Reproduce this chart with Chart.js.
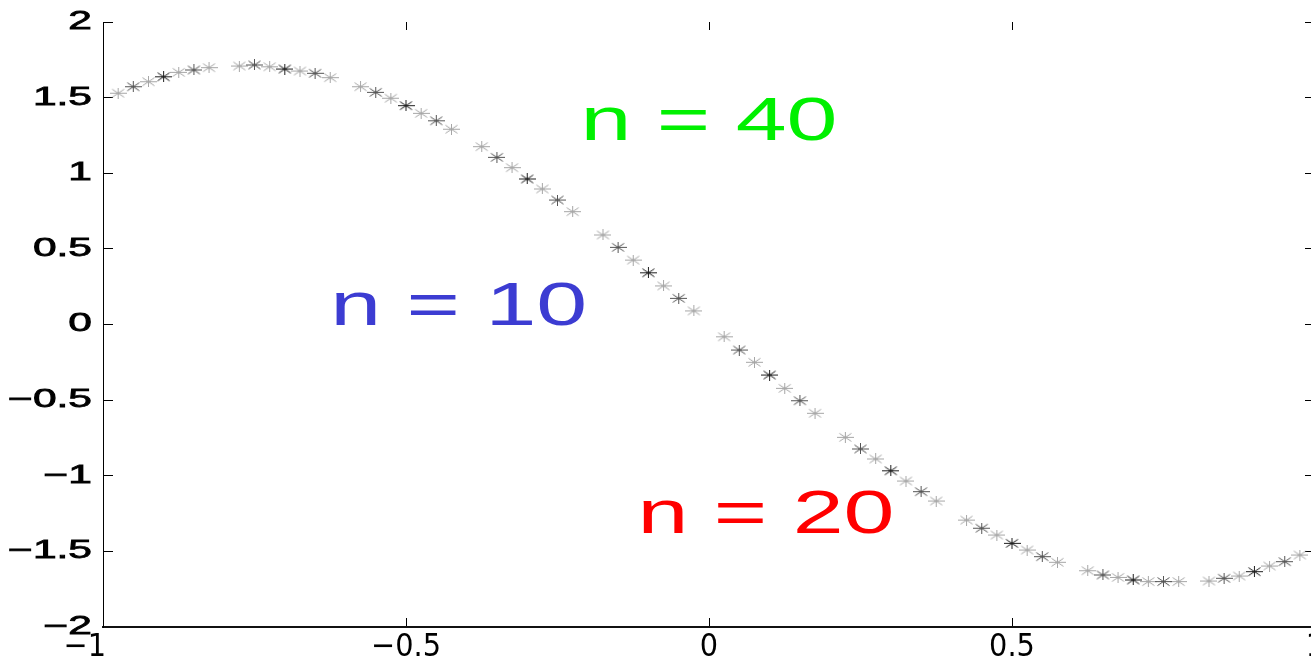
<!DOCTYPE html>
<html>
<head>
<meta charset="utf-8">
<style>
  html, body { margin: 0; padding: 0; background: #fff; overflow: hidden; }
  canvas { display: block; }
</style>
<script src="https://cdn.jsdelivr.net/npm/chart.js@4/dist/chart.umd.min.js"></script>
</head>
<body>
<canvas id="c" width="1320" height="660" style="width:1320px;height:660px"></canvas>
<script>
// Cell-midpoint samples for three grid sizes
const x10 = [-0.9, -0.7, -0.5, -0.3, -0.1, 0.1, 0.3, 0.5, 0.7, 0.9];
const y10 = [1.638, 1.689, 1.447, 0.962, 0.342, -0.334, -0.967, -1.447, -1.689, -1.634];

const x20 = [-0.95, -0.85, -0.75, -0.65, -0.55, -0.45, -0.35, -0.25, -0.15, -0.05,
              0.05,  0.15,  0.25,  0.35,  0.45,  0.55,  0.65,  0.75,  0.85,  0.95];
const y20 = [1.572, 1.683, 1.716, 1.661, 1.535, 1.347, 1.105, 0.823, 0.510, 0.173,
             -0.169, -0.504, -0.823, -1.105, -1.347, -1.535, -1.656, -1.700, -1.678, -1.568];

const x40 = [-0.975, -0.925, -0.875, -0.825, -0.775, -0.725, -0.675, -0.625, -0.575, -0.525,
             -0.475, -0.425, -0.375, -0.325, -0.275, -0.225, -0.175, -0.125, -0.075, -0.025,
              0.025,  0.075,  0.125,  0.175,  0.225,  0.275,  0.325,  0.375,  0.425,  0.475,
              0.525,  0.575,  0.625,  0.675,  0.725,  0.775,  0.825,  0.875,  0.925,  0.975];
const y40 = [1.529, 1.605, 1.667, 1.698, 1.709, 1.704, 1.676, 1.632, 1.572, 1.496,
             1.396, 1.291, 1.176, 1.037, 0.896, 0.746, 0.592, 0.426, 0.255, 0.090,
             -0.081, -0.250, -0.422, -0.587, -0.746, -0.889, -1.035, -1.167, -1.293, -1.392,
             -1.491, -1.572, -1.628, -1.672, -1.700, -1.700, -1.696, -1.663, -1.597, -1.524];

// Axis ranges and tick step
const xRange = [-1, 1];
const yRange = [-2, 2];
const tickStep = 0.5;

// Text notes
const noteText  = ['n = 40', 'n = 10', 'n = 20'];
const noteColor = ['#00f000', '#3c3cd2', '#ff0000'];
const noteX = [-0.212, -0.625, -0.118];
const noteY = [1.220, -0.003, -1.379];

const NOTE_FONT = 61;
const NOTE_STRETCH = 1.5;
const Y_LABEL_STRETCH = 1.7;

const pairs = (xs, ys) => xs.map((v, i) => ({ x: v, y: ys[i] }));
const fmt = v => (v < 0 ? '\u2212' : '') + Math.abs(v);
// The leftmost x label sits a little left of its tick
const fmtX = v => fmt(v) + (v === xRange[0] ? '    ' : '');

// Asterisk marker (plus + cross), wider than tall
function asterisk(color) {
  const w = 17, h = 11;
  const c = document.createElement('canvas');
  c.width = w; c.height = h;
  const g = c.getContext('2d');
  g.strokeStyle = color;
  g.lineWidth = 1;
  g.beginPath();
  g.moveTo(0, 5.5);   g.lineTo(17, 5.5);
  g.moveTo(8.5, 0);   g.lineTo(8.5, 11);
  g.moveTo(2.5, 1.5); g.lineTo(14.5, 9.5);
  g.moveTo(14.5, 1.5); g.lineTo(2.5, 9.5);
  g.stroke();
  return c;
}

// Widen the left axis labels about their right edge
const stretchYLabels = {
  id: 'stretchYLabels',
  beforeDraw(chart) {
    const s = chart.scales.y;
    if (s.__wide) return;
    s.__wide = true;
    const orig = s.drawLabels;
    s.drawLabels = function (area) {
      const ctx = this.ctx;
      const R = this.right - (this.options.grid.tickLength + this.options.ticks.padding);
      ctx.save();
      ctx.translate(R, 0);
      ctx.scale(Y_LABEL_STRETCH, 1);
      ctx.translate(-R, 0);
      orig.call(this, area);
      ctx.restore();
    };
  }
};

const notes = {
  id: 'notes',
  afterDatasetsDraw(chart) {
    const { ctx, scales: { x, y } } = chart;
    ctx.save();
    ctx.font = NOTE_FONT + 'px "Liberation Sans", Arial, sans-serif';
    ctx.textBaseline = 'alphabetic';
    ctx.textAlign = 'left';
    noteText.forEach((t, i) => {
      ctx.save();
      ctx.translate(x.getPixelForValue(noteX[i]), y.getPixelForValue(noteY[i]));
      ctx.scale(NOTE_STRETCH, 1);
      ctx.fillStyle = noteColor[i];
      ctx.fillText(t, 0, 0);
      ctx.restore();
    });
    ctx.restore();
  }
};

const tickOnly = (len) => ({
  display: true,
  drawOnChartArea: false,
  drawTicks: true,
  tickLength: len,
  color: '#000',
  tickColor: '#000',
  lineWidth: 1
});

// Fixed box sizes, no extra room reserved for label overhang
const fixSize = (w, h) => (s) => {
  if (w !== null) s.width = w;
  if (h !== null) s.height = h;
  s.paddingLeft = s.paddingRight = s.paddingTop = s.paddingBottom = 0;
};

new Chart(document.getElementById('c'), {
  type: 'scatter',
  data: {
    datasets: [
      { label: 'n = 10', data: pairs(x10, y10), pointStyle: asterisk('#1e1e1e') },
      { label: 'n = 20', data: pairs(x20, y20), pointStyle: asterisk('#555555') },
      { label: 'n = 40', data: pairs(x40, y40), pointStyle: asterisk('#a6a6a6') }
    ]
  },
  options: {
    responsive: false,
    devicePixelRatio: 1,
    animation: false,
    layout: { padding: 0, autoPadding: false },
    plugins: { legend: { display: false }, tooltip: { enabled: false } },
    elements: { point: { radius: 8, hoverRadius: 8 } },
    scales: {
      x: {
        type: 'linear', position: 'bottom', min: xRange[0], max: xRange[1],
        grid: tickOnly(-9),
        border: { display: true, color: '#111', width: 2 },
        ticks: {
          stepSize: tickStep, color: '#000', padding: 10, maxRotation: 0,
          font: { family: '"Liberation Sans Narrow", "DejaVu Sans Condensed", sans-serif', size: 32 },
          callback: fmtX
        },
        afterFit: fixSize(null, 33)
      },
      xTop: {
        type: 'linear', position: 'top', min: xRange[0], max: xRange[1],
        grid: tickOnly(-8),
        border: { display: false },
        ticks: { stepSize: tickStep, display: false },
        afterFit: fixSize(null, 22)
      },
      y: {
        type: 'linear', position: 'left', min: yRange[0], max: yRange[1],
        grid: tickOnly(-10),
        border: { display: true, color: '#000', width: 1 },
        ticks: {
          stepSize: tickStep, color: '#000', padding: 21,
          textStrokeColor: '#000', textStrokeWidth: 0.8,
          font: { family: '"Liberation Sans", Arial, sans-serif', size: 25 },
          callback: fmt
        },
        afterFit: fixSize(103, null)
      },
      yRight: {
        type: 'linear', position: 'right', min: yRange[0], max: yRange[1],
        grid: tickOnly(-10),
        border: { display: false },
        ticks: { stepSize: tickStep, display: false },
        afterFit: fixSize(5, null)
      }
    }
  },
  plugins: [stretchYLabels, notes]
});
</script>
</body>
</html>
